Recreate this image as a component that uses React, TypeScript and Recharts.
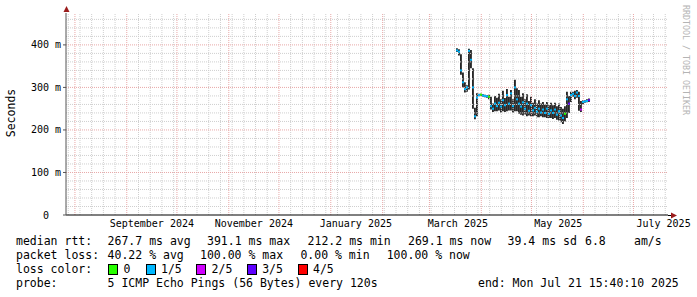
import { ComposedChart, XAxis, YAxis, Bar, Scatter, ReferenceLine, ReferenceDot } from 'recharts';

// time axis in days since 1 Aug 2024, graph covers the last 360 days
const endDay = 354 + (15 + 40 / 60) / 24;
const startDay = endDay - 360;

const monthStartDays = [0, 31, 61, 92, 122, 153, 184, 212, 243, 273, 304, 334];
const firstSunday = -4;
const labelDays = [46, 107, 168, 229, 289, 352];
const labelNames = ['September 2024', 'November 2024', 'January 2025', 'March 2025', 'May 2025', 'July 2025'];

const yTicks = [0, 100, 200, 300, 400];

// samples (consolidated), first one 17 Mar 2025
const sampleStart = 228.5;
const sampleStep = 1.196;

const medianRtt = [
  387, 384, 340, 312, 296, 300, 386, 365, 300, 232,
  276, 282, 283, 281, 280, 279, 278, 256, 250, 262,
  256, 264, 255, 270, 258, 282, 262, 286, 256, 300,
  272, 262, 255, 265, 250, 262, 245, 258, 246, 252,
  243, 250, 241, 248, 240, 250, 238, 246, 240, 248,
  236, 244, 234, 228, 238, 272, 262, 282, 285, 280,
  288, 280, 248, 266, 267, 268, 270,
];
const smokeLow = [
  383, 375, 330, 300, 288, 290, 295, 345, 250, 225,
  232, 279, 280, 278, 277, 276, 272,
  248, 242, 244, 244, 246, 240, 244, 242, 244, 246,
  246, 240, 244, 244, 238, 236, 234, 236, 232, 234,
  232, 232, 234, 230, 230, 232, 230, 230, 228, 228,
  228, 226, 228, 224, 222, 218, 214, 220,
  228, 240, 266, 278, 272, 276, 245, 242, 260, 264, 265, 266,
];
const smokeHigh = [
  392, 390, 378, 335, 312, 305, 391, 388, 345, 252,
  286, 285, 285, 284, 283, 282, 283,
  278, 262, 280, 276, 285, 272, 292, 275, 296, 278,
  294, 272, 318, 298, 294, 278, 286, 272, 284, 268,
  278, 264, 272, 262, 270, 262, 266, 260, 266, 258,
  264, 258, 264, 256, 262, 254, 250, 256,
  290, 280, 290, 290, 292, 294, 290, 268, 270, 270, 272, 274,
];
const lossLevel = [
  1, 1, 1, 1, 1, 1, 1, 1, 1, 1,
  1, 1, 0, 1, 1, 1, 0, 1, 1, 1,
  1, 1, 1, 1, 1, 1, 1, 1, 1, 1,
  1, 1, 1, 1, 1, 1, 1, 1, 1, 1,
  1, 1, 1, 1, 1, 1, 1, 1, 1, 1,
  1, 1, 1, 1, 0, 1, 3, 1, 1, 1,
  1, 1, 2, 1, 1, 1, 3,
];

const lossColors = ['#26ff00', '#00b8ff', '#d000ff', '#5e00ff', '#ff0000'];
const lossNames = ['0', '1/5', '2/5', '3/5', '4/5'];

const data = medianRtt.map((m, i) => ({
  t: sampleStart + i * sampleStep,
  med: m,
  smoke: [smokeLow[i], smokeHigh[i]],
  loss: lossLevel[i],
}));

const weekDays: number[] = [];
for (let d = firstSunday; d <= endDay; d += 7) {
  if (!monthStartDays.includes(d)) weekDays.push(d);
}
const minorLevels: number[] = [];
for (let v = 20; v < 475; v += 20) {
  if (v % 100 !== 0) minorLevels.push(v);
}

const mono = 'DejaVu Sans Mono';
const gridGrey = '#cfcfcf';
const gridRed = '#e8a8a8';
const arrowRed = '#9b1c1c';

const YTick = (props: any) => {
  const { x, y, payload } = props;
  const v = payload.value;
  const txt = v === 0 ? '0' : `${v} m`;
  return (
    <text x={v === 0 ? x - 12 : x} y={y} dy={3.5} textAnchor="end" fontFamily={mono} fontSize={10} fill="#000">
      {txt}
    </text>
  );
};

const legendRows = [
  { top: 234, items: [[16, 'median rtt:'], [107.6, '267.7 ms avg'], [207, '391.1 ms max'], [307.6, '212.2 ms min'], [408, '269.1 ms now'], [507.6, '39.4 ms sd'], [585, '6.8'], [634, 'am/s']] },
  { top: 248, items: [[16, 'packet loss:'], [107.6, '40.22 % avg'], [200, '100.00 % max'], [300.4, '0.00 % min'], [386.7, '100.00 % now']] },
  { top: 262, items: [[16, 'loss color:']] },
  { top: 276, items: [[16, 'probe:'], [107.6, '5 ICMP Echo Pings (56 Bytes) every 120s'], [478, 'end: Mon Jul 21 15:40:10 2025']] },
];
const swatchX = [108.4, 145.8, 196.4, 247, 297.8];

export default function App() {
  return (
    <div style={{ position: 'absolute', left: 0, top: 0, width: 697, height: 297, background: '#fff' }}>
      <ComposedChart width={697} height={297} data={data} margin={{ top: 13, right: 29, bottom: 62, left: 6 }}>
        {minorLevels.map((v) => (
          <ReferenceLine key={'h' + v} y={v} stroke={gridGrey} strokeDasharray="1 1" />
        ))}
        {weekDays.map((d) => (
          <ReferenceLine key={'w' + d} x={d} stroke={gridGrey} strokeDasharray="1 1" />
        ))}
        {[100, 200, 300, 400].map((v) => (
          <ReferenceLine key={'H' + v} y={v} stroke={gridRed} strokeDasharray="1 1" />
        ))}
        {monthStartDays.map((d) => (
          <ReferenceLine key={'m' + d} x={d} stroke={gridRed} strokeDasharray="1 1" />
        ))}
        <XAxis
          dataKey="t"
          type="number"
          domain={[startDay, endDay]}
          allowDataOverflow
          ticks={labelDays}
          interval={0}
          tickFormatter={(v: number) => labelNames[labelDays.indexOf(v)]}
          tickLine={false}
          tickSize={0}
          tickMargin={5}
          axisLine={{ stroke: '#000' }}
          tick={{ fontFamily: mono, fontSize: 10, fill: '#000' }}
          height={20}
        />
        <YAxis
          type="number"
          domain={[0, 475]}
          allowDataOverflow
          ticks={yTicks}
          interval={0}
          width={60}
          tickSize={3}
          tickLine={{ stroke: '#555' }}
          axisLine={{ stroke: '#555' }}
          tick={<YTick />}
        />
        <Bar dataKey="smoke" fill="#1e1e1e" barSize={2} isAnimationActive={false} />
        <Scatter
          dataKey="med"
          isAnimationActive={false}
          shape={(p: any) => (
            <rect x={p.cx - 1} y={p.cy - 1} width={2} height={2} fill={lossColors[p.payload.loss]} />
          )}
        />
        <ReferenceDot
          x={startDay}
          y={475}
          ifOverflow="visible"
          shape={(p: any) => (
            <polygon points={`${p.cx + 0.5},${p.cy - 7} ${p.cx - 2.5},${p.cy - 1} ${p.cx + 3.5},${p.cy - 1}`} fill={arrowRed} />
          )}
        />
        <ReferenceDot
          x={endDay}
          y={0}
          ifOverflow="visible"
          shape={(p: any) => (
            <g>
              <line x1={p.cx} y1={p.cy + 0.5} x2={p.cx + 3} y2={p.cy + 0.5} stroke="#000" />
              <polygon points={`${p.cx + 9},${p.cy + 0.5} ${p.cx + 3},${p.cy - 2.5} ${p.cx + 3},${p.cy + 3.5}`} fill={arrowRed} />
            </g>
          )}
        />
      </ComposedChart>

      <div
        style={{
          position: 'absolute', left: 11, top: 113, transform: 'translate(-50%, -50%) rotate(-90deg)',
          fontFamily: mono, fontSize: 11.5, color: '#000', whiteSpace: 'pre',
        }}
      >
        Seconds
      </div>
      <div
        style={{
          position: 'absolute', left: 686, top: 60, transform: 'translate(-50%, -50%) rotate(90deg)',
          fontFamily: mono, fontSize: 8.3, color: '#b4b4b4', whiteSpace: 'pre',
        }}
      >
        RRDTOOL / TOBI OETIKER
      </div>

      {legendRows.map((row) =>
        row.items.map(([x, txt]) => (
          <div
            key={row.top + '-' + x}
            style={{
              position: 'absolute', left: x as number, top: row.top, lineHeight: '14px',
              fontFamily: mono, fontSize: 11.5, color: '#000', whiteSpace: 'pre',
            }}
          >
            {txt}
          </div>
        ))
      )}
      {lossNames.map((name, i) => (
        <div key={name}>
          <div
            style={{
              position: 'absolute', left: swatchX[i], top: 264, width: 8, height: 9,
              background: lossColors[i], border: '1px solid #000',
            }}
          />
          <div
            style={{
              position: 'absolute', left: swatchX[i] + 15.2, top: 262, lineHeight: '14px',
              fontFamily: mono, fontSize: 11.5, color: '#000', whiteSpace: 'pre',
            }}
          >
            {name}
          </div>
        </div>
      ))}
    </div>
  );
}
